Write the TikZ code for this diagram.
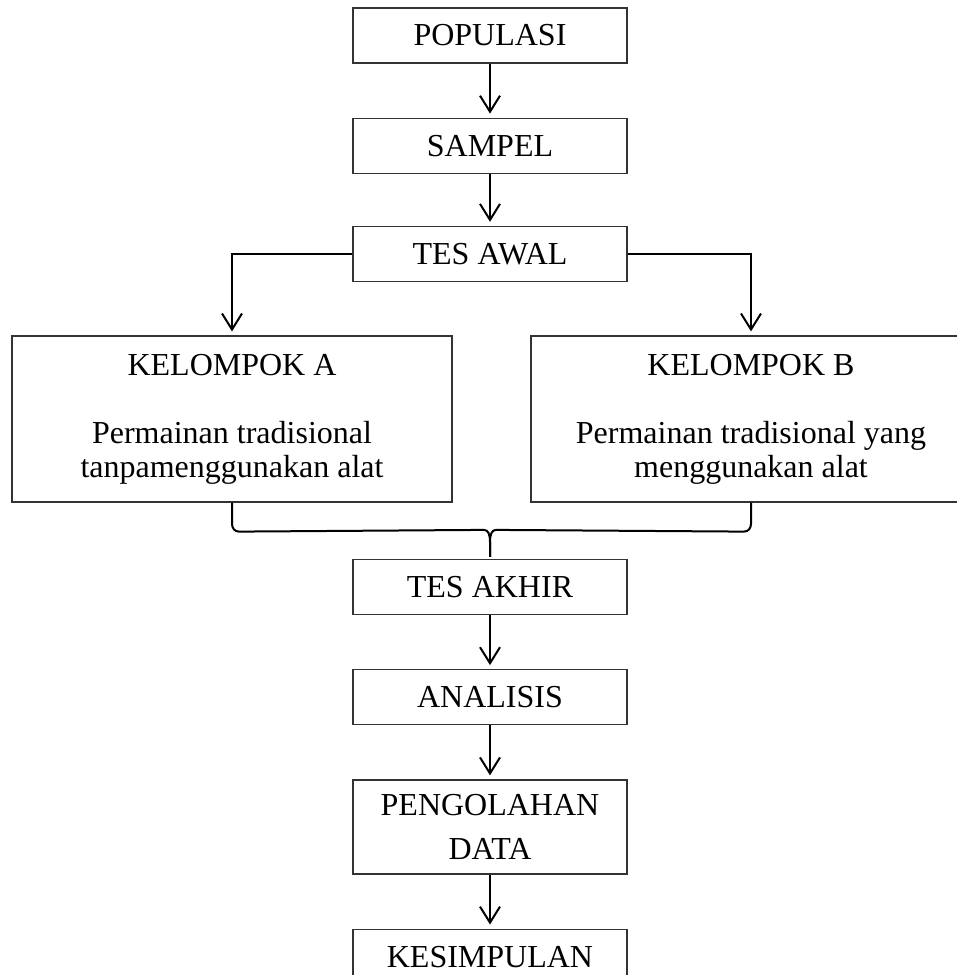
\documentclass[tikz,border=0pt]{standalone}
\usepackage{fontspec}
\setmainfont{Liberation Serif}
\usetikzlibrary{arrows.meta,positioning,calc}

\begin{document}
\begin{tikzpicture}[
	x=0.5pt, y=-0.5pt,
	node distance=27pt,
	font=\fontsize{16}{17}\selectfont,
	block/.style={draw=black!80, line width=0.6pt, align=center, minimum width=137pt, minimum height=27.5pt, inner sep=0pt},
	grup/.style={block, minimum width=220pt, minimum height=83pt},
	arr/.style={-{Straight Barb[length=8pt,width=10pt]}, line width=1pt, shorten >=2pt},
	kurung/.style={line width=1pt}
	]
	\useasboundingbox (0,0) rectangle (957,975);
	\node[block] (pop) at (490,35.5) {POPULASI};
	\node[block, below=of pop] (smp) {SAMPEL};
	\node[block, below=26pt of smp] (awal) {TES AWAL};
	\node[grup] (ka) at (232,419) {KELOMPOK A\\[17pt]Permainan tradisional\\tanpamenggunakan alat};
	\node[grup] (kb) at (751,419) {KELOMPOK B\\[17pt]Permainan tradisional yang\\menggunakan alat};
	\node[block] (akhir) at (490,587) {TES AKHIR};
	\node[block, below=of akhir] (anl) {ANALISIS};
	\node[block, below=of anl, minimum height=47pt] (olah) {PENGOLAHAN\\[5pt]DATA};
	\node[block, below=of olah] (simp) {KESIMPULAN};
	\draw[arr] (pop) -- (smp);
	\draw[arr] (smp) -- (awal);
	\draw[arr] (awal.west) -| (ka.north);
	\draw[arr] (awal.east) -| (kb.north);
	% kurung kurawal ke tes akhir
	\draw[kurung] (ka.south) -- ($(ka.south)+(0,21)$)
		.. controls +(0,5) and +(-4,0) .. ($(ka.south)+(7,29)$)
		-- ($(akhir.north)+(-6,-29)$)
		.. controls +(4,0) and +(0,-8) .. ($(akhir.north)+(0,-17)$)
		-- ($(akhir.north)+(0,-2)$);
	\draw[kurung] (kb.south) -- ($(kb.south)+(0,21)$)
		.. controls +(0,5) and +(4,0) .. ($(kb.south)+(-7,29)$)
		-- ($(akhir.north)+(6,-29)$)
		.. controls +(-4,0) and +(0,-8) .. ($(akhir.north)+(0,-17)$)
		-- ($(akhir.north)+(0,-2)$);
	\draw[arr] (akhir) -- (anl);
	\draw[arr] (anl) -- (olah);
	\draw[arr] (olah) -- (simp);
\end{tikzpicture}
\end{document}
